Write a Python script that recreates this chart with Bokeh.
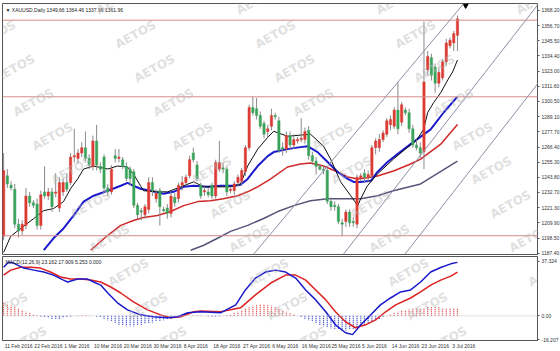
import numpy as np
from bokeh.plotting import figure
from bokeh.layouts import column
from bokeh.models import (ColumnDataSource, FixedTicker, Range1d, Span, Label,
                          PrintfTickFormatter, Slope)
from bokeh.embed import file_html
from bokeh.resources import INLINE
from bokeh.core.properties import value

# ---------------- data ----------------
symbol_header = "XAUUSD,Daily  1349.66 1364.46 1337.96 1361.96"
macd_header = "MACD(12,26,9) 23.162 17.909 5.253 0.000"
watermark = "AETOS"

date_labels = ["11 Feb 2016", "22 Feb 2016", "1 Mar 2016", "10 Mar 2016", "20 Mar 2016",
               "30 Mar 2016", "8 Apr 2016", "18 Apr 2016", "27 Apr 2016", "6 May 2016",
               "16 May 2016", "25 May 2016", "5 Jun 2016", "14 Jun 2016", "23 Jun 2016",
               "3 Jul 2016"]
date_label_bars = [0, 8, 16, 24, 32, 40, 48, 56, 64, 72, 80, 88, 96, 104, 112, 120]

price_ticks = [1368.20, 1356.70, 1345.50, 1334.40, 1323.00, 1311.60, 1300.50, 1289.10,
               1277.70, 1266.40, 1255.30, 1243.80, 1232.70, 1221.30, 1209.90, 1198.50, 1187.40]
macd_ticks = [37.324, 0.0, -16.207]

level_lines = [1360.96, 1303.90, 1200.40]

opens = [1200, 1245, 1238, 1235, 1209, 1204, 1208, 1230, 1225, 1224,
         1208, 1233, 1230, 1233, 1232, 1221, 1233, 1240, 1240, 1259,
         1258, 1262, 1266, 1258, 1252, 1271, 1252, 1259, 1236, 1233,
         1260, 1258, 1257, 1252, 1250, 1248, 1223, 1219, 1216, 1220,
         1240, 1228, 1234, 1220, 1221, 1217, 1229, 1228, 1238, 1240,
         1245, 1262, 1253, 1238, 1233, 1233, 1238, 1230, 1250, 1251,
         1250, 1234, 1234, 1240, 1241, 1248, 1266, 1296, 1295, 1290,
         1284, 1278, 1282, 1290, 1286, 1266, 1265, 1275, 1268, 1271,
         1272, 1272, 1279, 1260, 1256, 1252, 1250, 1249, 1226, 1223,
         1222, 1210, 1211, 1218, 1211, 1209, 1243, 1247, 1244, 1245,
         1266, 1266, 1272, 1276, 1283, 1282, 1294, 1285, 1294, 1292,
         1280, 1268, 1266, 1263, 1324, 1333, 1326, 1314, 1318, 1330,
         1342, 1344, 1349.66]
highs = [1262, 1250, 1241, 1239, 1213, 1212, 1236, 1233, 1227, 1228,
         1234, 1252, 1236, 1236, 1247, 1244, 1243, 1247, 1262, 1280,
         1265, 1270, 1278, 1261, 1275, 1283, 1255, 1261, 1239, 1253,
         1265, 1265, 1259, 1255, 1252, 1250, 1225, 1221, 1224, 1244,
         1244, 1235, 1236, 1222, 1224, 1233, 1232, 1240, 1245, 1246,
         1260, 1266, 1256, 1240, 1237, 1236, 1240, 1257, 1271, 1255,
         1252, 1236, 1241, 1246, 1251, 1268, 1298, 1304, 1303, 1293,
         1286, 1283, 1295, 1292, 1289, 1270, 1278, 1278, 1276, 1274,
         1288, 1281, 1282, 1263, 1259, 1254, 1253, 1251, 1229, 1226,
         1224, 1213, 1220, 1220, 1214, 1246, 1247, 1250, 1249, 1268,
         1273, 1276, 1279, 1288, 1290, 1296, 1315, 1300, 1296, 1295,
         1283, 1272, 1270, 1360, 1338, 1336, 1328, 1326, 1332, 1347,
         1348, 1353, 1364.46]
lows = [1197, 1236, 1234, 1206, 1199, 1201, 1205, 1222, 1221, 1205,
        1205, 1228, 1227, 1218, 1229, 1218, 1230, 1233, 1238, 1255,
        1254, 1259, 1256, 1250, 1249, 1249, 1247, 1233, 1230, 1231,
        1255, 1255, 1250, 1241, 1238, 1221, 1213, 1212, 1213, 1217,
        1230, 1225, 1208, 1218, 1213, 1214, 1222, 1225, 1234, 1238,
        1243, 1255, 1241, 1228, 1230, 1229, 1228, 1228, 1248, 1247,
        1230, 1232, 1231, 1237, 1238, 1245, 1264, 1290, 1287, 1280,
        1273, 1274, 1279, 1287, 1262, 1260, 1262, 1265, 1265, 1269,
        1270, 1269, 1257, 1253, 1246, 1249, 1246, 1224, 1219, 1219,
        1209, 1200, 1207, 1207, 1207, 1206, 1241, 1240, 1240, 1243,
        1261, 1263, 1270, 1274, 1279, 1280, 1276, 1282, 1290, 1277,
        1266, 1264, 1258, 1250, 1320, 1316, 1307, 1311, 1316, 1327,
        1340, 1338, 1337.96]
closes = [1249, 1239, 1236, 1209, 1204, 1209, 1230, 1225, 1223, 1208,
          1231, 1230, 1233, 1222, 1233, 1240, 1240, 1235, 1259, 1260,
          1262, 1266, 1258, 1253, 1271, 1253, 1250, 1236, 1233, 1250,
          1258, 1259, 1252, 1243, 1243, 1223, 1216, 1218, 1222, 1240,
          1234, 1232, 1222, 1219, 1217, 1230, 1225, 1238, 1240, 1244,
          1257, 1257, 1243, 1230, 1234, 1231, 1230, 1255, 1255, 1250,
          1233, 1235, 1239, 1244, 1249, 1266, 1296, 1292, 1290, 1282,
          1276, 1280, 1290, 1289, 1264, 1265, 1275, 1268, 1272, 1272,
          1273, 1278, 1260, 1256, 1252, 1250, 1249, 1226, 1222, 1222,
          1211, 1209, 1218, 1210, 1210, 1244, 1245, 1244, 1246, 1266,
          1271, 1272, 1277, 1286, 1287, 1294, 1280, 1298, 1292, 1280,
          1268, 1266, 1262, 1315, 1334, 1320, 1314, 1322, 1330, 1344,
          1346, 1351, 1361.96]

# moving averages, read at sample bars
ma_fast_bars = [0, 1.9, 4.6, 8.1, 10.8, 13.4, 16.1, 18, 19.9, 21.5, 24.2, 28, 30.6, 33.3, 34.9,
                36.8, 37.6, 41.4, 44.1, 47.6, 51.1, 53.8, 57.5, 61, 63.7, 65.6, 68.3, 71, 72.6,
                76.3, 82.5, 86, 87.9, 90.6, 93.3, 95.2, 96, 97.8, 100.5, 104.8, 108, 110.8,
                112.9, 114, 115.6, 117.5, 119.4, 120.7, 122]
ma_fast = [1188, 1199.9, 1205.8, 1213.2, 1219.1, 1220.6, 1225.8, 1235.4, 1242.7, 1250.1,
           1252.3, 1250.1, 1252.3, 1251.6, 1246.4, 1237.6, 1233.9, 1233.1, 1233.1, 1236.8,
           1240.5, 1236.8, 1236.8, 1236.8, 1239.0, 1252.3, 1264.9, 1273.7, 1278.2, 1274.5,
           1276.0, 1267.1, 1257.5, 1240.5, 1230.2, 1222.8, 1228.0, 1237.6, 1246.4, 1257.5,
           1264.9, 1270.8, 1279.6, 1292.2, 1299.6, 1306.9, 1316.5, 1322.4, 1331.3]

ma_mid_bars = [10.8, 13.4, 16.1, 18.8, 21.5, 24.2, 28, 31.5, 33.3, 34.9, 36.8, 39.5, 43, 45.7,
               48.4, 51.1, 54.8, 58.3, 61.8, 63.7, 65.6, 68.3, 71, 72.6, 76.3, 79.8, 81.7,
               84.4, 87.1, 89.8, 92.5, 94.1, 96, 98.7, 100.5, 103.2, 105.9, 109.4, 114.8,
               118.3, 122]
ma_mid = [1189.6, 1198.5, 1205.8, 1215.4, 1225.8, 1230.2, 1233.9, 1237.6, 1239.8, 1237.6,
          1235.4, 1233.9, 1231.7, 1233.1, 1236.8, 1237.6, 1236.8, 1237.6, 1237.6, 1238.3,
          1242.7, 1252.3, 1259.7, 1262.7, 1264.9, 1266.4, 1267.1, 1262.7, 1255.3, 1247.9,
          1242.7, 1240.5, 1240.5, 1241.3, 1247.9, 1255.3, 1261.2, 1268.6, 1279.6, 1292.2,
          1304.0]

ma_slow_bars = [23.4, 28, 31.5, 34.9, 37.6, 41.4, 44.9, 48.4, 52.2, 55.6, 59.1, 62.9, 65.6,
                68.3, 71.8, 76.3, 79.8, 82.5, 86, 89.8, 92.5, 95.2, 97.8, 100.5, 104.8, 109.4,
                112.1, 117.5, 122]
ma_slow = [1189.6, 1200.7, 1208.1, 1211.7, 1214.0, 1215.4, 1218.4, 1222.8, 1225.8, 1226.5,
           1228.0, 1230.2, 1233.1, 1236.8, 1242.7, 1251.6, 1253.8, 1254.5, 1252.3, 1247.9,
           1244.2, 1242.7, 1243.5, 1244.9, 1248.6, 1253.8, 1257.5, 1268.6, 1283.3]

ma_long_bars = [50.3, 53.8, 57.5, 61, 65.6, 69.9, 73.7, 78, 82.5, 87.1, 91.4, 96, 100.5,
                104.8, 112.1, 122]
ma_long = [1189.6, 1193.3, 1198.5, 1203.6, 1208.1, 1213.2, 1218.4, 1222.8, 1226.5, 1228.0,
           1228.0, 1228.0, 1230.2, 1233.9, 1239.0, 1256.0]

# MACD lines read at sample bars
dif_bars = [0, 1.3, 2.7, 5.4, 8.1, 10.8, 13.4, 16.1, 17.2, 19.9, 22.6, 24.2, 26.1, 28, 30.6,
            33.3, 36.8, 40.3, 44.1, 46.8, 49.5, 53, 58.3, 62.4, 65, 67.7, 70.4, 73.1, 75.8,
            78.5, 81.2, 83.9, 86.6, 89.2, 91.9, 93.8, 96, 98.7, 101.3, 104, 106.7, 109.4,
            112.1, 114.8, 117.5, 120.2, 122]
dif = [33.2, 36.6, 36.0, 32.6, 31.2, 29.9, 27.8, 24.4, 23.1, 25.1, 25.1, 23.1, 21.0, 15.6,
       8.9, 4.1, 0.7, -0.6, -1.3, -0.6, 2.1, 2.8, 2.1, 7.5, 17.7, 25.8, 29.9, 31.2, 29.9,
       25.8, 17.7, 10.9, 2.8, -6.1, -11.5, -12.8, -6.1, 0.7, 7.5, 12.2, 16.3, 17.7, 23.1,
       29.9, 33.0, 35.5, 36.5]
dea_bars = [0, 1.9, 4.6, 7.3, 9.9, 12.6, 15.3, 18, 20.7, 23.4, 26.1, 28.8, 31.5, 34.9, 38.7,
            42.2, 44.9, 47.6, 51.1, 53, 58.3, 63.7, 67.7, 71.8, 75.8, 78.5, 81.2, 83.9, 86.6,
            89.2, 91.9, 94.6, 97.3, 100, 102.7, 105.4, 109.4, 112.1, 114.8, 117.5, 120.2, 122]
dea = [27.8, 31.2, 33.2, 33.2, 32.6, 29.9, 26.5, 25.1, 25.1, 24.4, 23.1, 19.7, 15.6, 9.5,
       4.1, 0.7, -1.3, -0.6, 2.8, 3.4, 2.8, 5.5, 14.3, 22.4, 27.8, 27.8, 24.4, 17.7, 10.9,
       2.8, -4.0, -8.1, -6.1, -2.7, 2.8, 7.5, 12.2, 16.3, 21.0, 24.4, 27.1, 29.9]
hist = [9, 8, 7, 6, 5, 4, 3, 2, 1, 0.5, -0.5, -1, -1.5, -2, -2, -2, -1.5, -1, -0.5, 0,
        0.5, 0.5, 0.5, 0.3, 0, -0.5, -1, -2, -3, -4, -5, -6, -6.5, -7, -7, -7, -6.5, -6,
        -5.5, -5, -4.5, -4, -3.5, -3, -2.5, -2, -1.5, -1, -0.5, 0, 0.3, 0.5, 0.5, 0.3, 0,
        -0.3, -0.5, -0.5, -0.3, 0, 0.5, 1, 2, 3, 4, 5, 6, 7, 7.5, 8, 8, 7.5, 7, 6, 5, 4, 3,
        2, 1, 0, -1, -2, -3, -4, -5, -6, -7, -8, -8.5, -9, -9.5, -10, -10, -9.5, -9, -8, -7,
        -6, -5, -4, -3, -2, -1, 0, 1, 2, 3, 3.5, 4, 4.5, 5, 5, 5, 5.5, 6, 6, 6, 6, 5.5, 5.5,
        5.5, 5.3, 5.25]

# channel (trend) lines: two anchor points each (bar, price)
channel_lines = [[(68.9, 1192.2), (123.7, 1373.4)],
                 [(92.3, 1190.0), (128.2, 1317.7)],
                 [(108.0, 1187.0), (128.2, 1258.9)]]

# ---------------- layout ----------------
BAR_PX = 3.72
FRAME_W = 535
M_H, D_H = 251, 84
X0 = -0.3
X1 = X0 + FRAME_W / BAR_PX
FONT = "Liberation Sans"
FS = "5px"
CHAR_PX = 2.55          # rough average glyph width at FS, for left-aligning date labels
BG = "#ffffff"
TXT = "#333333"

N = len(closes)
idx = np.arange(N)
o = np.array(opens, float); c = np.array(closes, float)
up = c >= o
body_col = np.where(up, "#dc3a32", "#3aa35a")
src = ColumnDataSource(dict(x=idx, h=highs, l=lows, top=np.maximum(o, c), bot=np.minimum(o, c),
                            col=body_col))


def style_axis(a):
    a.major_label_text_font = FONT
    a.major_label_text_font_size = FS
    a.major_label_text_color = TXT
    a.major_tick_out = 2
    a.major_tick_in = 0
    a.minor_tick_out = 0
    a.minor_tick_in = 0
    a.major_label_standoff = 2
    a.axis_line_color = "#555555"
    a.major_tick_line_color = "#555555"


def add_watermark(fig, y_top, units_per_px, y_px0, y_lo, y_hi):
    """Tiled diagonal 'AETOS' stamps over the whole canvas area of this panel."""
    for r in range(-5, 13):
        for cc in range(-3, 6):
            sx = 33 + 140 * cc + 19 * r
            sy = 102 + 34 * r
            if not (-8 <= sx <= 568 and y_lo <= sy < y_hi):
                continue
            fig.add_layout(Label(x=X0 + (sx - 2) / BAR_PX, y=y_top - (sy - y_px0) * units_per_px,
                                 text=watermark, angle=0.5, text_align="center",
                                 text_baseline="middle", text_color="#b4b4b4",
                                 text_alpha=0.42, text_font="DejaVu Sans",
                                 text_font_style="bold", text_font_size="12px"))


# main panel
M_TOP, M_BOT = 1373.4, 1186.4
p = figure(frame_width=FRAME_W, frame_height=M_H, x_range=Range1d(X0, X1),
           y_range=Range1d(M_BOT, M_TOP), output_backend="svg", toolbar_location=None,
           y_axis_location="right", min_border_left=2, min_border_top=3,
           min_border_bottom=2, min_border_right=0, background_fill_color=BG,
           border_fill_color=BG)
p.xaxis.visible = False
p.grid.visible = False
p.outline_line_color = "#555555"

for lv in level_lines:
    p.add_layout(Span(location=lv, dimension="width", line_color="#d48a8a", line_width=1))

for (b0, v0), (b1, v1) in channel_lines:
    g = (v1 - v0) / (b1 - b0)
    p.add_layout(Slope(gradient=g, y_intercept=v0 - g * b0, line_color="#8e8ea6",
                       line_width=1))

p.line(ma_long_bars, ma_long, line_color="#55557a", line_width=1.5)
p.line(ma_slow_bars, ma_slow, line_color="#d02828", line_width=1.5)
p.line(ma_mid_bars, ma_mid, line_color="#1a1acc", line_width=2)
p.line(ma_fast_bars, ma_fast, line_color="#111111", line_width=1)

p.segment(x0="x", y0="l", x1="x", y1="h", source=src, line_color="#8a8a8a", line_width=1)
p.vbar(x="x", width=0.62, top="top", bottom="bot", source=src, fill_color="col",
       line_color="col", line_width=0.5)

p.scatter(x=[N + 1.2], y=[M_TOP - 1.5], marker="inverted_triangle", size=5,
          fill_color="#000000", line_color="#000000")

ax = p.yaxis[0]
ax.ticker = FixedTicker(ticks=price_ticks)
ax.formatter = PrintfTickFormatter(format="%.2f")
style_axis(ax)

for lv in level_lines:
    p.add_layout(Label(x=X1, y=lv, text=f"{lv:.2f}", x_offset=2, text_baseline="middle",
                       text_font=FONT, text_font_size=FS, text_color="#ffffff",
                       background_fill_color="#e02020", padding=1))

p.add_layout(Label(x=X0, y=M_TOP, x_offset=3, y_offset=-3, text="\u25bc " + symbol_header,
                   text_baseline="top", text_font=FONT, text_font_size=FS,
                   text_color="#222222"))

add_watermark(p, M_TOP, (M_TOP - M_BOT) / M_H, 3, -10, 256)

# MACD panel
D_TOP, D_BOT = 40.5, -16.8
q = figure(frame_width=FRAME_W, frame_height=D_H, x_range=p.x_range,
           y_range=Range1d(D_BOT, D_TOP), output_backend="svg", toolbar_location=None,
           y_axis_location="right", min_border_left=2, min_border_top=0,
           min_border_bottom=0, min_border_right=0, background_fill_color=BG,
           border_fill_color=BG)
q.grid.visible = False
q.outline_line_color = "#555555"

q.add_layout(Span(location=0, dimension="width", line_color="#c8c8c8", line_width=1,
                  line_dash="1 1"))
hv = np.array(hist, float)
hsrc = ColumnDataSource(dict(x=idx, y0=np.zeros(N), y1=hv,
                             col=np.where(hv >= 0, "#e03030", "#2030c8")))
q.segment(x0="x", y0="y0", x1="x", y1="y1", source=hsrc, line_color="col", line_width=1.2,
          line_dash="1 1")
q.line(dea_bars, dea, line_color="#dd2222", line_width=1.5)
q.line(dif_bars, dif, line_color="#1a1acc", line_width=1.5)

qa = q.yaxis[0]
qa.ticker = FixedTicker(ticks=macd_ticks)
qa.formatter = PrintfTickFormatter(format="%.3f")
qa.major_label_overrides = {0.0: "0.00"}
style_axis(qa)

# date labels: MT4 draws them starting at the bar, so shift each centred label right
label_pos = [b + (len(t) * CHAR_PX / 2.0 + 1) / BAR_PX
             for b, t in zip(date_label_bars, date_labels)]
xa = q.xaxis[0]
xa.ticker = FixedTicker(ticks=label_pos)
xa.major_label_overrides = {pos: t for pos, t in zip(label_pos, date_labels)}
style_axis(xa)
xa.major_tick_out = 0

q.add_layout(Label(x=X0, y=D_TOP, x_offset=3, y_offset=-2, text=macd_header,
                   text_baseline="top", text_font=FONT, text_font_size=FS,
                   text_color="#222222"))

add_watermark(q, D_TOP, (D_TOP - D_BOT) / D_H, 256, 256, 360)

layout = column(p, q, spacing=0, background=BG)
open("out.html", "w").write(file_html(layout, INLINE))
